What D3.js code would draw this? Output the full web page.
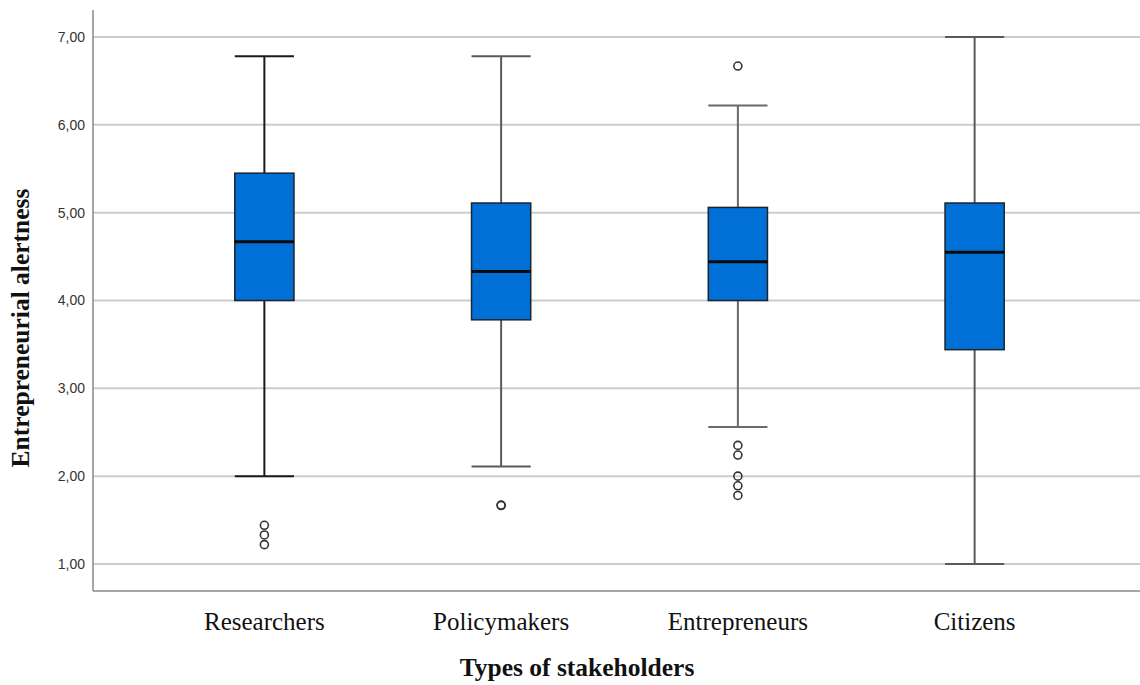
<!DOCTYPE html>
<html>
<head>
<meta charset="utf-8">
<script src="https://d3js.org/d3.v7.min.js"></script>
<style>
  html, body { margin: 0; padding: 0; background: #fff; }
  svg { display: block; }
</style>
</head>
<body>
<svg id="chart" width="1140" height="685"></svg>
<script>
// ---- data ----
const categories = ["Researchers", "Policymakers", "Entrepreneurs", "Citizens"];
const whiskerLow  = [2.00, 2.11, 2.56, 1.00];
const q1          = [4.00, 3.78, 4.00, 3.44];
const medians     = [4.67, 4.33, 4.44, 4.55];
const q3          = [5.45, 5.11, 5.06, 5.11];
const whiskerHigh = [6.78, 6.78, 6.22, 7.00];
const outliers    = [
  [1.44, 1.33, 1.22],
  [1.67, 1.665],
  [6.67, 2.35, 2.24, 2.00, 1.89, 1.78],
  []
];
const tickValues = [1, 2, 3, 4, 5, 6, 7];
const tickLabels = ["1,00", "2,00", "3,00", "4,00", "5,00", "6,00", "7,00"];
const yTitle = "Entrepreneurial alertness";
const xTitle = "Types of stakeholders";

// ---- layout ----
const svg = d3.select("#chart");
const plot = { left: 93, right: 1140, top: 10, bottom: 591 };

const y = d3.scaleLinear().domain([0.692, 7.308]).range([plot.bottom, plot.top]);
const x = d3.scaleBand().domain(categories).range([146, 1093]).padding(0);
const boxW = x.bandwidth() * 0.25;
const capW = x.bandwidth() * 0.125;
const whiskerColors = ["#1a1a1a", "#5a5a5a", "#6a6a6a", "#5a5a5a"];

// gridlines
svg.append("g")
  .selectAll("line")
  .data(tickValues)
  .join("line")
  .attr("x1", plot.left).attr("x2", plot.right)
  .attr("y1", d => y(d)).attr("y2", d => y(d))
  .attr("stroke", "#cccccc").attr("stroke-width", 2);

// y axis
const yAxis = d3.axisLeft(y)
  .tickValues(tickValues)
  .tickFormat((d, i) => tickLabels[i])
  .tickSize(0).tickPadding(8);
const gy = svg.append("g").attr("transform", `translate(${plot.left},0)`).call(yAxis);
gy.select(".domain").remove();
gy.selectAll("text")
  .attr("font-family", "Liberation Sans, Arial, sans-serif")
  .attr("font-size", 14)
  .attr("fill", "#333");

// x axis (labels)
const xAxis = d3.axisBottom(x).tickSize(0).tickPadding(21);
const gx = svg.append("g").attr("transform", `translate(0,${plot.bottom})`).call(xAxis);
gx.select(".domain").remove();
gx.selectAll("text")
  .attr("font-family", "Liberation Serif, Times New Roman, serif")
  .attr("font-size", 25)
  .attr("fill", "#111");

// axis lines
svg.append("line")
  .attr("x1", plot.left).attr("x2", plot.left)
  .attr("y1", plot.top).attr("y2", plot.bottom)
  .attr("stroke", "#888").attr("stroke-width", 1.5);
svg.append("line")
  .attr("x1", plot.left).attr("x2", plot.right)
  .attr("y1", plot.bottom).attr("y2", plot.bottom)
  .attr("stroke", "#888").attr("stroke-width", 1.5);

// boxes
const data = categories.map((c, i) => ({
  c, i, lo: whiskerLow[i], q1: q1[i], med: medians[i], q3: q3[i], hi: whiskerHigh[i], out: outliers[i]
}));

const g = svg.append("g")
  .selectAll("g")
  .data(data)
  .join("g")
  .attr("transform", d => `translate(${x(d.c) + x.bandwidth() / 2},0)`);

// whisker stems
g.append("line")
  .attr("x1", 0).attr("x2", 0)
  .attr("y1", d => y(d.hi)).attr("y2", d => y(d.q3))
  .attr("stroke", d => whiskerColors[d.i]).attr("stroke-width", 2);
g.append("line")
  .attr("x1", 0).attr("x2", 0)
  .attr("y1", d => y(d.q1)).attr("y2", d => y(d.lo))
  .attr("stroke", d => whiskerColors[d.i]).attr("stroke-width", 2);
// caps
g.append("line")
  .attr("x1", -capW).attr("x2", capW)
  .attr("y1", d => y(d.hi)).attr("y2", d => y(d.hi))
  .attr("stroke", d => whiskerColors[d.i]).attr("stroke-width", 2);
g.append("line")
  .attr("x1", -capW).attr("x2", capW)
  .attr("y1", d => y(d.lo)).attr("y2", d => y(d.lo))
  .attr("stroke", d => whiskerColors[d.i]).attr("stroke-width", 2);

// box
g.append("rect")
  .attr("x", -boxW / 2).attr("width", boxW)
  .attr("y", d => y(d.q3)).attr("height", d => y(d.q1) - y(d.q3))
  .attr("fill", "#0070d6").attr("stroke", "#1c2430").attr("stroke-width", 1.5);

// median
g.append("line")
  .attr("x1", -boxW / 2).attr("x2", boxW / 2)
  .attr("y1", d => y(d.med)).attr("y2", d => y(d.med))
  .attr("stroke", "#0a0a0a").attr("stroke-width", 3);

// outliers
g.selectAll("circle")
  .data(d => d.out)
  .join("circle")
  .attr("cx", 0).attr("cy", v => y(v))
  .attr("r", 4)
  .attr("fill", "none").attr("stroke", "#333").attr("stroke-width", 1.6);

// axis titles
svg.append("text")
  .attr("x", 577).attr("y", 676)
  .attr("text-anchor", "middle")
  .attr("font-family", "Liberation Serif, Times New Roman, serif")
  .attr("font-weight", "bold").attr("font-size", 25.5)
  .attr("fill", "#111")
  .text(xTitle);

svg.append("text")
  .attr("transform", `translate(29,328) rotate(-90)`)
  .attr("text-anchor", "middle")
  .attr("font-family", "Liberation Serif, Times New Roman, serif")
  .attr("font-weight", "bold").attr("font-size", 25.5)
  .attr("fill", "#111")
  .text(yTitle);
</script>
</body>
</html>
